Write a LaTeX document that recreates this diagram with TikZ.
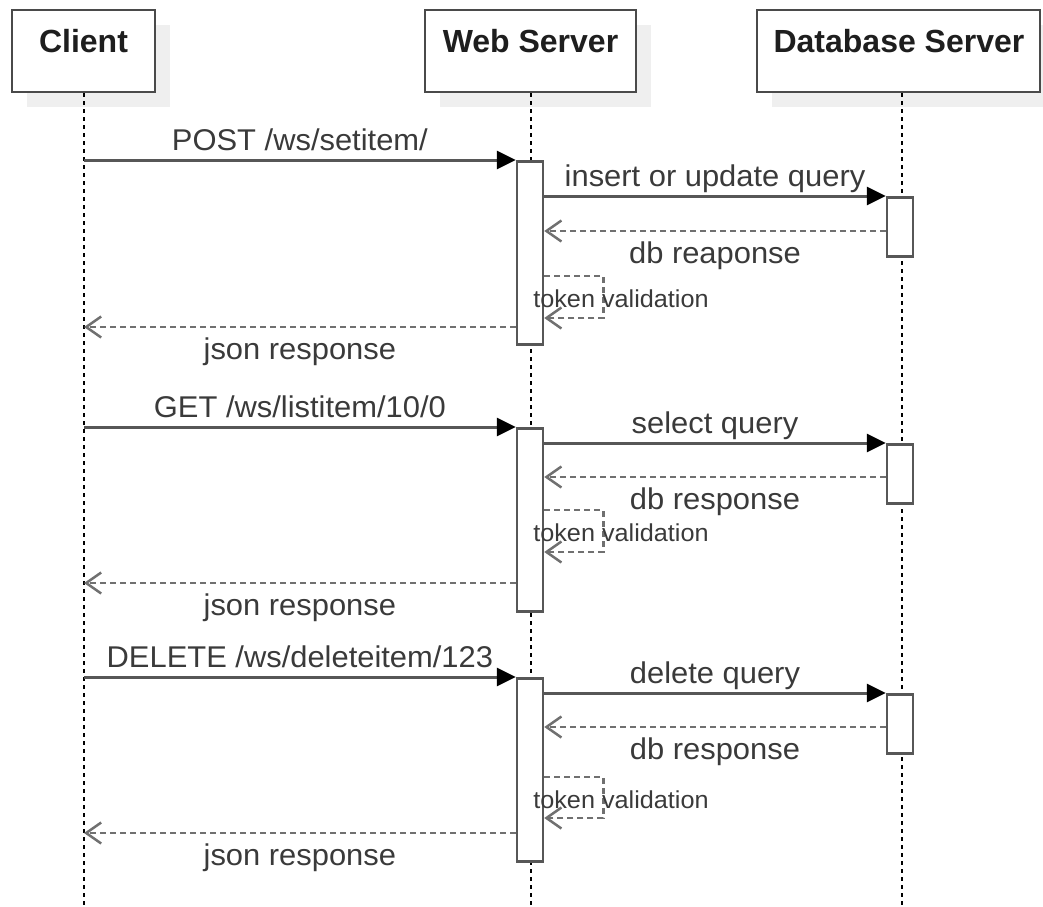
\documentclass[tikz,border=0pt]{standalone}
\usepackage{fontspec}
\setmainfont{Liberation Sans}
\newfontfamily\msgfont[FakeStretch=1.03]{Liberation Sans}
\usetikzlibrary{arrows.meta,shadows}

\definecolor{boxline}{HTML}{4A4A4A}
\definecolor{shadowgray}{HTML}{EFEFEF}
\definecolor{msgline}{HTML}{575757}
\definecolor{replyline}{HTML}{707070}
\definecolor{msgtext}{HTML}{3A3A3A}
\definecolor{actortext}{HTML}{1E1E1E}

\begin{document}
\begin{tikzpicture}[x=1pt,y=-1pt,
  actor/.style={draw=boxline, line width=2.5pt, fill=white, inner sep=0pt,
    minimum height=82pt,
    drop shadow={shadow xshift=15pt, shadow yshift=-15pt, fill=shadowgray, opacity=1}},
  actorname/.style={anchor=base, inner sep=0pt, text=actortext,
    font=\fontsize{32}{38}\selectfont\bfseries},
  lifeline/.style={draw=black, line width=1.5pt, dash pattern=on 4pt off 4pt},
  act/.style={draw=msgline, line width=2.5pt, fill=white, inner sep=0pt,
    minimum width=26pt, anchor=north},
  call/.style={draw=msgline, line width=3pt,
    -{Triangle[length=19pt,width=18pt,fill=black,color=black]}},
  reply/.style={draw=replyline, line width=2.5pt, dash pattern=on 6pt off 4pt,
    -{Straight Barb[length=15pt,width=21pt]}},
  above label/.style={midway, anchor=base, yshift=10pt, inner sep=0pt,
    text=msgtext, font=\msgfont\fontsize{30}{36}\selectfont},
  below label/.style={midway, anchor=base, yshift=-32.5pt, inner sep=0pt,
    text=msgtext, font=\msgfont\fontsize{30}{36}\selectfont},
  selflabel/.style={anchor=base, inner sep=0pt, text=msgtext,
    font=\msgfont\fontsize{24.5}{30}\selectfont},
]
\useasboundingbox (0,0) rectangle (1043,906);

% participants
\node[actor, minimum width=143pt] (client) at (83.5,51) {};
\node[actor, minimum width=211pt] (web) at (530.5,51) {};
\node[actor, minimum width=283pt] (db) at (898.5,51) {};
\node[actorname] (clientname) at (83.5,52) {Client};
\node[actorname] (webname) at (530.5,52) {Web Server};
\node[actorname] (dbname) at (899,52) {Database Server};

% lifelines
\coordinate (clientend) at (84,906);
\coordinate (webend) at (531,906);
\coordinate (dbend) at (902,906);
\draw[lifeline] (client.south -| clientend) -- (clientend);
\draw[lifeline] (web.south -| webend) -- (webend);
\draw[lifeline] (db.south -| dbend) -- (dbend);

% activation bars on the web server and database server
\node[act, minimum height=183pt] (ws1) at (530,160) {};
\node[act, minimum height=183pt] (ws2) at (530,427) {};
\node[act, minimum height=183pt] (ws3) at (530,677) {};
\node[act, minimum height=59pt] (db1) at (900,196) {};
\node[act, minimum height=59pt] (db2) at (900,443) {};
\node[act, minimum height=59pt] (db3) at (900,693) {};

% client-side anchors on the client lifeline
\coordinate (post) at (84,160);
\coordinate (json1) at (84,327);
\coordinate (get) at (84,427);
\coordinate (json2) at (84,583);
\coordinate (delete) at (84,677);
\coordinate (json3) at (84,833);

% --- setitem ---
\draw[call] (post) -- (ws1.north west) node[above label] {POST /ws/setitem/};
\draw[call] (ws1.east |- db1.north) -- (db1.north west) node[above label] {insert or update query};
\draw[reply] (db1.west |- 0,231) -- (ws1.east |- 0,231) node[below label] {db reaponse};
\draw[reply] (ws1.east |- 0,276) -- ++(59,0) |- (ws1.east |- 0,318);
\node[selflabel] (tok1) at (621,307) {token validation};
\draw[reply] (ws1.west |- json1) -- (json1) node[below label] {json response};

% --- listitem ---
\draw[call] (get) -- (ws2.north west) node[above label] {GET /ws/listitem/10/0};
\draw[call] (ws2.east |- db2.north) -- (db2.north west) node[above label] {select query};
\draw[reply] (db2.west |- 0,477) -- (ws2.east |- 0,477) node[below label] {db response};
\draw[reply] (ws2.east |- 0,510) -- ++(59,0) |- (ws2.east |- 0,552);
\node[selflabel] (tok2) at (621,541) {token validation};
\draw[reply] (ws2.west |- json2) -- (json2) node[below label] {json response};

% --- deleteitem ---
\draw[call] (delete) -- (ws3.north west) node[above label] {DELETE /ws/deleteitem/123};
\draw[call] (ws3.east |- db3.north) -- (db3.north west) node[above label] {delete query};
\draw[reply] (db3.west |- 0,727) -- (ws3.east |- 0,727) node[below label] {db response};
\draw[reply] (ws3.east |- 0,777) -- ++(59,0) |- (ws3.east |- 0,818);
\node[selflabel] (tok3) at (621,808) {token validation};
\draw[reply] (ws3.west |- json3) -- (json3) node[below label] {json response};
\end{tikzpicture}
\end{document}
